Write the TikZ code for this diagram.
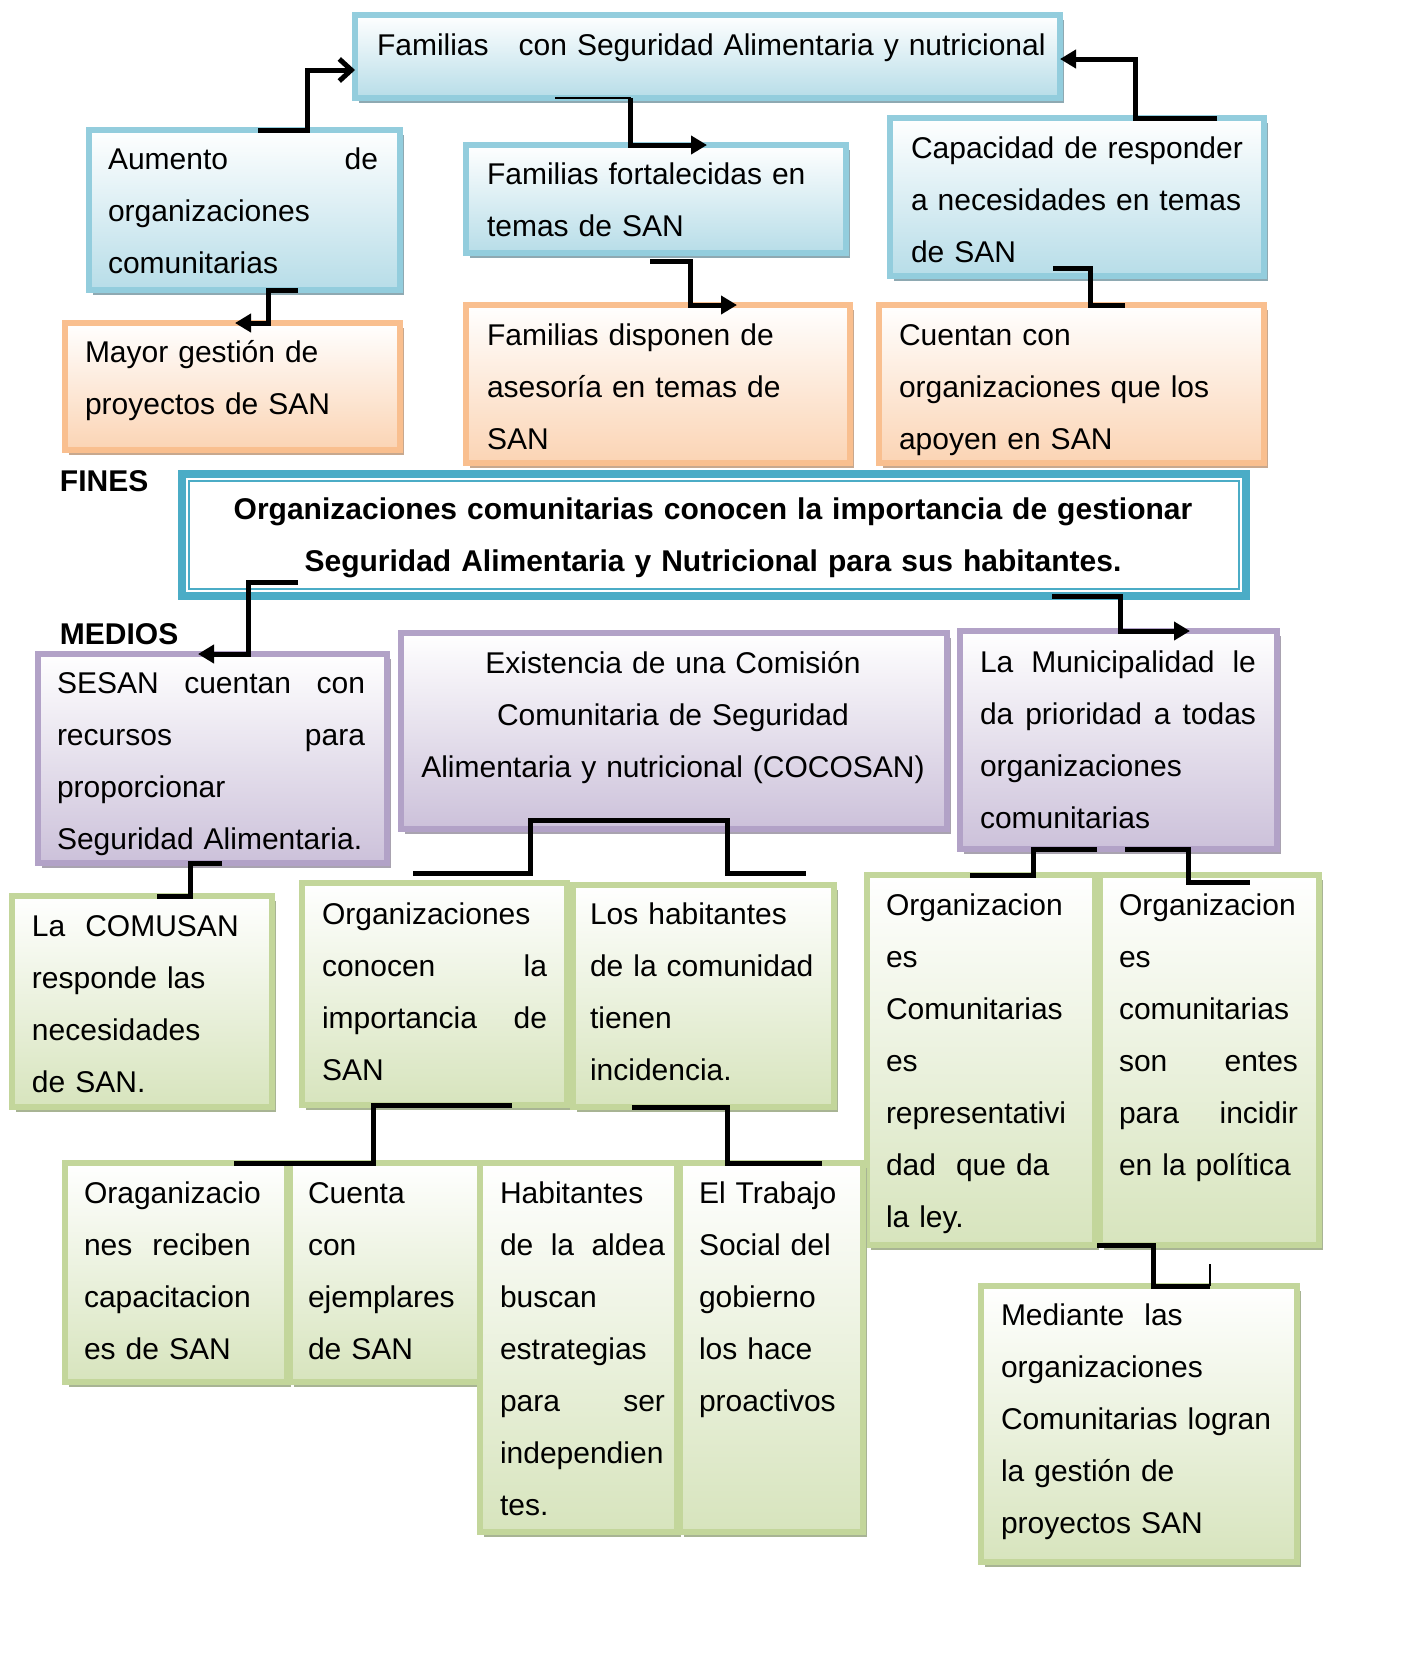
\documentclass[tikz,border=0pt]{standalone}
\usepackage{fontspec}
\setmainfont{Liberation Sans}
\usetikzlibrary{arrows.meta,shadows,calc}

\definecolor{bluB}{HTML}{93CDDD}
\definecolor{bluF}{HTML}{B7DDE8}
\definecolor{bluS}{HTML}{8EA9B2}
\definecolor{orB}{HTML}{F9BF8F}
\definecolor{orF}{HTML}{FBD4B4}
\definecolor{orS}{HTML}{C8A88E}
\definecolor{puB}{HTML}{B2A2C7}
\definecolor{puF}{HTML}{CCC1DA}
\definecolor{puS}{HTML}{A9A3B0}
\definecolor{grB}{HTML}{C3D69B}
\definecolor{grF}{HTML}{D7E4BD}
\definecolor{grS}{HTML}{A8B494}
\definecolor{tealC}{HTML}{4BACC6}

\tikzset{
 boxbase/.style={rectangle, inner sep=0pt, outer sep=0pt, line width=3pt, top color=white},
 bluebox/.style={boxbase, draw=bluB, bottom color=bluF, drop shadow={shadow xshift=2pt, shadow yshift=-2.5pt, fill=bluS, opacity=1}},
 orbox/.style={boxbase, draw=orB, bottom color=orF, drop shadow={shadow xshift=2pt, shadow yshift=-2.5pt, fill=orS, opacity=1}},
 pubox/.style={boxbase, draw=puB, bottom color=puF, drop shadow={shadow xshift=2pt, shadow yshift=-2.5pt, fill=puS, opacity=1}},
 grbox/.style={boxbase, draw=grB, bottom color=grF, drop shadow={shadow xshift=2pt, shadow yshift=-2.5pt, fill=grS, opacity=1}},
 txt/.style={inner sep=0pt, outer sep=0pt, anchor=base west, align=left, font=\fontsize{15}{26}\selectfont},
 conn/.style={line width=2.5pt, line join=miter},
 tri/.style={-{Triangle[length=8pt,width=9pt]}},
}
\newcommand\mkbox[6]{\node[#2, minimum width={(#5-#3-6)*0.5pt}, minimum height={(#6-#4-6)*0.5pt}, anchor=north west] (#1) at ({#3+3},{#4+3}) {};}
\newcommand\mktxt[5]{\node[txt, text width=#4pt] (#1) at (#2,#3) {#5};}

\begin{document}
\begin{tikzpicture}[x=0.5pt,y=-0.5pt]
\fill[white] (0,0) rectangle (1403,1662);
\useasboundingbox (0,0) rectangle (1403,1662);

% ---- boxes ----
\mkbox{b1}{bluebox}{352}{12}{1063}{101}
\mkbox{b2}{bluebox}{86}{127}{403}{293}
\mkbox{b3}{bluebox}{463}{142}{849}{256}
\mkbox{b4}{bluebox}{887}{115}{1267}{279}
\mkbox{b5}{orbox}{62}{320}{403}{453}
\mkbox{b6}{orbox}{463}{302}{853}{466}
\mkbox{b7}{orbox}{876}{302}{1267}{466}

\node[rectangle, draw=tealC, line width=4pt, fill=white, inner sep=0pt, outer sep=0pt,
  minimum width={1064*0.5pt}, minimum height={122*0.5pt}, anchor=north west] (c) at (182,474) {};
\draw[tealC, line width=1pt] ($(c.north west)+(7,7)$) rectangle ($(c.south east)+(-7,-7)$);

\mkbox{b8}{pubox}{35}{651}{390}{866}
\mkbox{b9}{pubox}{398}{630}{950}{832}
\mkbox{b10}{pubox}{957}{628}{1280}{852}

\mkbox{b11}{grbox}{9}{893}{275}{1110}
\mkbox{b12}{grbox}{299}{880}{570}{1108}
\mkbox{b13}{grbox}{570}{882}{837}{1110}
\mkbox{b14}{grbox}{864}{872}{1098}{1248}
\mkbox{b15}{grbox}{1097}{872}{1322}{1248}
\mkbox{b16}{grbox}{62}{1160}{290}{1385}
\mkbox{b17}{grbox}{287}{1160}{483}{1385}
\mkbox{b18}{grbox}{477}{1160}{680}{1535}
\mkbox{b19}{grbox}{677}{1160}{866}{1535}
\mkbox{b20}{grbox}{978}{1283}{1300}{1565}

% ---- texts ----
\mktxt{t1}{377}{55}{340}{Familias\ \ \ con Seguridad Alimentaria y nutricional}
\mktxt{t2}{108}{169}{135}{Aumento\hfill de\\organizaciones\\comunitarias}
\mktxt{t3}{487}{184}{172}{Familias fortalecidas en\\temas de SAN}
\mktxt{t4}{911}{158}{172}{Capacidad de responder\\a necesidades en temas\\de SAN}
\mktxt{t5}{85}{362}{150}{Mayor gestión de\\proyectos de SAN}
\mktxt{t6}{487}{345}{172}{Familias disponen de\\asesoría en temas de\\SAN}
\mktxt{t7}{899}{345}{172}{Cuentan con\\organizaciones que los\\apoyen en SAN}
\mktxt{fines}{60}{491}{100}{\bfseries FINES}
\mktxt{medios}{60}{644}{100}{\bfseries MEDIOS}
\node[txt, anchor=base, align=center, text width=525pt] (tc) at (713,519)
  {\bfseries Organizaciones comunitarias conocen la importancia de gestionar\\Seguridad Alimentaria y Nutricional para sus habitantes.};
\mktxt{t8}{57}{693}{154}{SESAN\hfill cuentan\hfill con\\recursos\hfill para\\proporcionar\\Seguridad Alimentaria.}
\node[txt, anchor=base, align=center, text width=270pt] (t9) at (673,673)
  {Existencia de una Comisión\\Comunitaria de Seguridad\\Alimentaria y nutricional (COCOSAN)};
\mktxt{t10}{980}{672}{138}{La\hfill Municipalidad\hfill le\\da\hfill prioridad\hfill a\hfill todas\\organizaciones\\comunitarias}
\mktxt{t11}{32}{936}{112}{La\ \ COMUSAN\\responde las\\necesidades\\de SAN.}
\mktxt{t12}{322}{924}{112.5}{Organizaciones\\conocen\hfill la\\importancia\hfill de\\SAN}
\mktxt{t13}{590}{924}{118}{Los habitantes\\de la comunidad\\tienen\\incidencia.}
\mktxt{t14}{886}{915}{100}{Organizacion\\es\\Comunitarias\\es\\representativi\\dad\ \ que da\\la ley.}
\mktxt{t15}{1119}{915}{89.5}{Organizacion\\es\\comunitarias\\son\hfill entes\\para\hfill incidir\\en la política}
\mktxt{t16}{84}{1203}{95}{Oraganizacio\\nes\ \ reciben\\capacitacion\\es de SAN}
\mktxt{t17}{308}{1203}{80}{Cuenta\\con\\ejemplares\\de SAN}
\mktxt{t18}{500}{1203}{82.5}{Habitantes\\de\hfill la\hfill aldea\\buscan\\estrategias\\para\hfill ser\\independien\\tes.}
\mktxt{t19}{699}{1203}{80}{El Trabajo\\Social del\\gobierno\\los hace\\proactivos}
\mktxt{t20}{1001}{1325}{140}{Mediante\ \ las\\organizaciones\\Comunitarias logran\\la gestión de\\proyectos SAN}

% ---- connectors ----
\draw[conn,-{Straight Barb[length=6pt,width=11pt]}] (b2.north -| 258,0) -| (307,70) -- (b1.west |- 0,70);
\draw[line width=1pt] (b1.south -| 555,0) -- (b1.south -| 631,0);
\draw[conn,tri] (b1.south -| 630,0) |- (b3.north -| 707,0);
\draw[conn,tri] (b4.north -| 1217,0) -| (1135,59) -- (b1.east |- 0,59);
\draw[conn,tri] (b2.south -| 298,0) -| (b5.north -| 268,0) -- (b5.north -| 235,0);
\draw[conn,tri] ($(b3.south -| 650,0)+(0,8)$) -| (b6.north -| 690,0) -- (b6.north -| 737,0);
\draw[conn] ($(b4.south -| 1053,0)+(0,-8)$) -| (b7.north -| 1090,0) -- (b7.north -| 1125,0);
\draw[conn,tri] ($(c.south -| 298,0)+(0,-14)$) -| (b8.north -| 248,0) -- (b8.north -| 198,0);
\draw[conn,tri] (c.south -| 1052,0) -| (b10.north -| 1120,0) -- (b10.north -| 1190,0);
\draw[conn] (b8.south -| 222,0) -| (b11.north -| 190,0) -- (b11.north -| 157,0);
\draw[conn] ($(b12.north -| 413,0)+(0,-10)$) -| ($(b9.south -| 530,0)+(0,-9)$) -| ($(b13.north -| 727,0)+(0,-12)$) -- ($(b13.north -| 806,0)+(0,-12)$);
\draw[conn] (b10.south -| 1097,0) -| (b14.north -| 1033,0) -- (b14.north -| 970,0);
\draw[conn] (b10.south -| 1125,0) -| ($(b15.north -| 1188,0)+(0,7)$) -- ($(b15.north -| 1250,0)+(0,7)$);
\draw[conn] (b12.south -| 512,0) -| (b16.north -| 373,0) -- (b16.north -| 234,0);
\draw[conn] (b13.south -| 632,0) -| (b19.north -| 727,0) -- (b19.north -| 822,0);
\draw[conn] (b15.south -| 1097,0) -| (b20.north -| 1153,0) -- (b20.north -| 1210,0);
\draw[line width=1pt] (b20.north -| 1210,0) -- ++(0,-22);
\end{tikzpicture}
\end{document}
